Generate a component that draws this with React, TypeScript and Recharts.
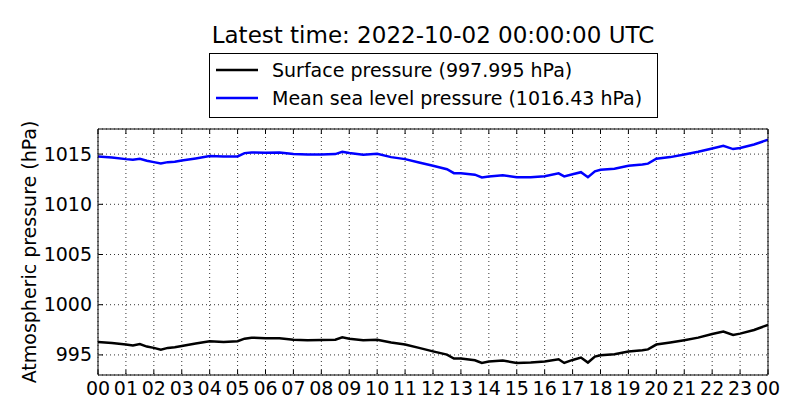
import { CartesianGrid, Line, LineChart, XAxis, YAxis } from "recharts";

const hours = [
    0, 0.5, 1, 1.25, 1.5, 1.75, 2, 2.25, 2.5, 2.75, 3, 3.5, 4, 4.5, 5, 5.25, 5.5, 6, 6.5, 7, 7.5, 8, 8.5, 8.75,
    9, 9.5, 10, 10.5, 11, 11.5, 12, 12.5, 12.75, 13, 13.5, 13.75, 14, 14.5, 15, 15.5, 16, 16.5, 16.7, 17, 17.3,
    17.55, 17.8, 18, 18.5, 19, 19.5, 19.7, 20, 20.5, 21, 21.5, 22, 22.4, 22.75, 23, 23.5, 24,
];

const surfacePressure = [
    996.29, 996.19, 996.03, 995.93, 996.09, 995.83, 995.7, 995.53, 995.7, 995.76, 995.89, 996.13, 996.36, 996.29,
    996.36, 996.62, 996.72, 996.66, 996.66, 996.52, 996.46, 996.49, 996.52, 996.75, 996.62, 996.46, 996.52, 996.23,
    996.03, 995.7, 995.35, 995.03, 994.64, 994.64, 994.47, 994.2, 994.34, 994.44, 994.2, 994.24, 994.34, 994.57,
    994.2, 994.5, 994.74, 994.24, 994.83, 994.97, 995.07, 995.33, 995.46, 995.55, 996.03, 996.23, 996.46, 996.72,
    997.09, 997.32, 996.99, 997.12, 997.48, 998.0,
];

const mslPressure = [
    1014.77, 1014.67, 1014.5, 1014.44, 1014.54, 1014.34, 1014.2, 1014.07, 1014.2, 1014.24, 1014.37, 1014.57,
    1014.8, 1014.77, 1014.77, 1015.1, 1015.17, 1015.13, 1015.17, 1015.0, 1014.97, 1014.97, 1015.0, 1015.23,
    1015.1, 1014.93, 1015.03, 1014.7, 1014.5, 1014.17, 1013.84, 1013.5, 1013.1, 1013.1, 1012.95, 1012.68,
    1012.78, 1012.9, 1012.7, 1012.7, 1012.8, 1013.08, 1012.78, 1013.0, 1013.2, 1012.7, 1013.28, 1013.44,
    1013.54, 1013.84, 1013.97, 1014.05, 1014.54, 1014.7, 1014.97, 1015.23, 1015.56, 1015.83, 1015.5, 1015.6,
    1015.96, 1016.43,
];

const hourTicks = [0, 1, 2, 3, 4, 5, 6, 7, 8, 9, 10, 11, 12, 13, 14, 15, 16, 17, 18, 19, 20, 21, 22, 23, 24];
const pressureTicks = [995, 1000, 1005, 1010, 1015];

const title = "Latest time: 2022-10-02 00:00:00 UTC";
const surfaceLabel = "Surface pressure (997.995 hPa)";
const mslLabel = "Mean sea level pressure (1016.43 hPa)";

const data = hours.map((h, i) => ({ h, surface: surfacePressure[i], msl: mslPressure[i] }));

const FONT = "'DejaVu Sans', sans-serif";
const TICK_LEN = 4;

function fmtHour(h: number) {
    return String(h % 24).padStart(2, "0");
}

// axes are 1px thick so the tick (x, y) lands right on the plot frame
function BottomTick({ x, y, payload }: any) {
    return (
        <g>
            <line x1={x} y1={y - 1} x2={x} y2={y - 1 - TICK_LEN} stroke="#000" />
            <text x={x} y={y + 20} textAnchor="middle" fontSize={19} fontFamily={FONT} fill="#000">
                {fmtHour(payload.value)}
            </text>
        </g>
    );
}

function TopTick({ x, y }: any) {
    return <line x1={x} y1={y + 1} x2={x} y2={y + 1 + TICK_LEN} stroke="#000" />;
}

function LeftTick({ x, y, payload }: any) {
    return (
        <g>
            <line x1={x + 1} y1={y} x2={x + 1 + TICK_LEN} y2={y} stroke="#000" />
            <text x={x - 6} y={y + 6.5} textAnchor="end" fontSize={19} fontFamily={FONT} fill="#000">
                {payload.value}
            </text>
        </g>
    );
}

function RightTick({ x, y }: any) {
    return <line x1={x - 1} y1={y} x2={x - 1 - TICK_LEN} y2={y} stroke="#000" />;
}

export default function App() {
    return (
        <div style={{ position: "absolute", left: 0, top: 0, width: 800, height: 420, background: "#fff" }}>
            <LineChart
                width={800}
                height={420}
                data={data}
                margin={{ top: 128, right: 31, bottom: 44, left: 97 }}
            >
                <CartesianGrid stroke="#000" strokeWidth={0.8} strokeDasharray="1 3" />
                <XAxis
                    dataKey="h"
                    type="number"
                    domain={[0, 24]}
                    ticks={hourTicks}
                    interval={0}
                    height={1}
                    tickSize={0}
                    tickMargin={0}
                    tickLine={false}
                    axisLine={{ stroke: "#000" }}
                    tick={<BottomTick />}
                    allowDataOverflow
                />
                <XAxis
                    xAxisId="top"
                    orientation="top"
                    dataKey="h"
                    type="number"
                    domain={[0, 24]}
                    ticks={hourTicks}
                    interval={0}
                    height={1}
                    tickSize={0}
                    tickMargin={0}
                    tickLine={false}
                    axisLine={{ stroke: "#000" }}
                    tick={<TopTick />}
                />
                <YAxis
                    type="number"
                    domain={[993, 1017.5]}
                    ticks={pressureTicks}
                    interval={0}
                    width={1}
                    tickSize={0}
                    tickMargin={0}
                    tickLine={false}
                    axisLine={{ stroke: "#000" }}
                    tick={<LeftTick />}
                    allowDataOverflow
                />
                <YAxis
                    yAxisId="right"
                    orientation="right"
                    type="number"
                    domain={[993, 1017.5]}
                    ticks={pressureTicks}
                    interval={0}
                    width={1}
                    tickSize={0}
                    tickMargin={0}
                    tickLine={false}
                    axisLine={{ stroke: "#000" }}
                    tick={<RightTick />}
                />
                <Line
                    dataKey="surface"
                    stroke="#000"
                    strokeWidth={2.5}
                    dot={false}
                    type="linear"
                    isAnimationActive={false}
                />
                <Line
                    dataKey="msl"
                    stroke="#0000ff"
                    strokeWidth={2.5}
                    dot={false}
                    type="linear"
                    isAnimationActive={false}
                />
            </LineChart>

            <svg
                width={800}
                height={420}
                style={{ position: "absolute", left: 0, top: 0, pointerEvents: "none" }}
                fontFamily={FONT}
            >
                <text x={433} y={43} textAnchor="middle" fontSize={23} fill="#000">
                    {title}
                </text>
                <rect x={209.5} y={53.5} width={448} height={64} fill="#fff" stroke="#000" />
                <line x1={216} y1={70} x2={258} y2={70} stroke="#000" strokeWidth={2.5} />
                <text x={272} y={76.7} fontSize={19} fill="#000">
                    {surfaceLabel}
                </text>
                <line x1={216} y1={98} x2={258} y2={98} stroke="#0000ff" strokeWidth={2.5} />
                <text x={272} y={105} fontSize={19} fill="#000">
                    {mslLabel}
                </text>
                <text
                    x={36}
                    y={252}
                    transform="rotate(-90 36 252)"
                    textAnchor="middle"
                    fontSize={19}
                    fill="#000"
                >
                    Atmospheric pressure (hPa)
                </text>
            </svg>
        </div>
    );
}
